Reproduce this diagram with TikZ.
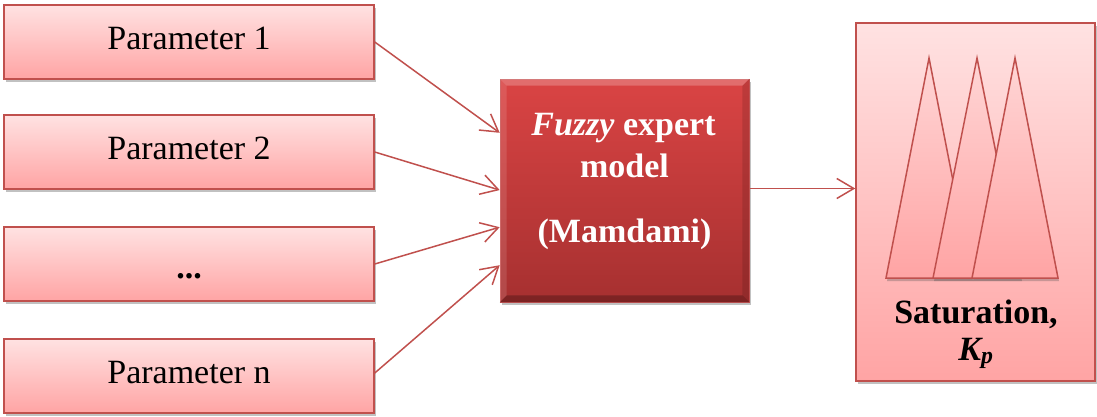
\documentclass[tikz,border=0pt]{standalone}
\usepackage{fontspec}
\setmainfont{Liberation Serif}
\usetikzlibrary{arrows.meta,shadows,calc}
\definecolor{edgered}{RGB}{192,80,77}
\definecolor{pinktop}{RGB}{255,226,226}
\definecolor{pinkbot}{RGB}{255,164,164}
\definecolor{redtop}{RGB}{218,68,68}
\definecolor{redbot}{RGB}{166,48,48}
\tikzset{
  softshadow/.style={drop shadow={shadow xshift=2pt,shadow yshift=-3pt,opacity=0.35,fill=black!70}},
  parambox/.style={draw=edgered,line width=1.5pt,top color=pinktop,bottom color=pinkbot,
    minimum width=370pt,minimum height=74pt,inner sep=0pt,text height=23pt,text depth=7.5pt,
    font=\fontsize{34}{40}\selectfont,softshadow},
  fuzzybox/.style={top color=redtop,bottom color=redbot,draw={rgb,255:red,200;green,85;blue,85},line width=0.6pt,
    minimum width=249pt,minimum height=223pt,inner sep=0pt,softshadow},
  satbox/.style={draw=edgered,line width=1.5pt,top color=pinktop,bottom color=pinkbot,
    minimum width=239pt,minimum height=358pt,inner sep=0pt,softshadow},
  tri/.style={draw=edgered,line width=1.5pt,top color=pinktop!80!pinkbot,bottom color=pinkbot,line join=miter},
  conn/.style={draw=edgered,line width=1.5pt,-{Straight Barb[length=17pt,width=20pt,line width=1.5pt]}},
  whitetxt/.style={text=white,font=\fontsize{34}{40}\selectfont\bfseries,inner sep=0pt,anchor=base},
  blacktxt/.style={text=black,font=\fontsize{34}{40}\selectfont\bfseries,inner sep=0pt,anchor=base}
}
\begin{document}
\begin{tikzpicture}[x=1pt,y=-1pt]
\useasboundingbox (0,0) rectangle (1097,416);
% parameter boxes
\node[parambox] (p1) at (189,42) {Parameter 1};
\node[parambox] (p2) at (189,152) {Parameter 2};
\node[parambox] (p3) at (189,264) {\textbf{\raisebox{-7pt}{...}}};
\node[parambox] (p4) at (189,376) {Parameter n};
% fuzzy model box
\node[fuzzybox] (fz) at (624.5,190.5) {};
\fill[white,opacity=0.22] (fz.north west) -- (fz.north east) -- ($(fz.north east)+(-7,7)$) -- ($(fz.north west)+(7,7)$) -- cycle;
\fill[white,opacity=0.12] (fz.north west) -- ($(fz.north west)+(7,7)$) -- ($(fz.south west)+(7,-7)$) -- (fz.south west) -- cycle;
\fill[black,opacity=0.25] (fz.south west) -- (fz.south east) -- ($(fz.south east)+(-7,-7)$) -- ($(fz.south west)+(7,-7)$) -- cycle;
\fill[black,opacity=0.12] (fz.north east) -- (fz.south east) -- ($(fz.south east)+(-7,-7)$) -- ($(fz.north east)+(-7,7)$) -- cycle;
\node[whitetxt] (ft1) at (623.5,135) {\textit{Fuzzy} expert};
\node[whitetxt] (ft2) at (624.5,177) {model};
\node[whitetxt] (ft3) at (624.5,242) {(Mamdami)};
% saturation box
\node[satbox] (sat) at (975.5,202) {};
\coordinate (t1a) at (929,58);
\coordinate (t2a) at (977,58);
\coordinate (t3a) at (1015,58);
\begin{scope}
\path[tri,drop shadow={shadow xshift=1pt,shadow yshift=-3pt,opacity=0.3,fill=black!70}] (t1a) -- (972,278) -- (886,278) -- cycle;
\path[tri,drop shadow={shadow xshift=1pt,shadow yshift=-3pt,opacity=0.3,fill=black!70}] (t2a) -- (1021,278) -- (933,278) -- cycle;
\path[tri,drop shadow={shadow xshift=1pt,shadow yshift=-3pt,opacity=0.3,fill=black!70}] (t3a) -- (1058,278) -- (972,278) -- cycle;
\end{scope}
\node[blacktxt] (s1) at (976,323) {Saturation,};
\node[blacktxt] (s2) at (976,360) {\textit{K\textsubscript{p}}};
% connectors
\draw[conn] (p1.east) -- ($(fz.north west)!0.242!(fz.south west)$);
\draw[conn] (p2.east) -- ($(fz.north west)!0.498!(fz.south west)$);
\draw[conn] (p3.east) -- ($(fz.north west)!0.664!(fz.south west)$);
\draw[conn] ($(p4.east)+(0,-3)$) -- ($(fz.north west)!0.834!(fz.south west)$);
\draw[conn] ($(fz.east)+(0,-2)$) -- ($(fz.east -| sat.west)+(0,-2)$);
\end{tikzpicture}
\end{document}
